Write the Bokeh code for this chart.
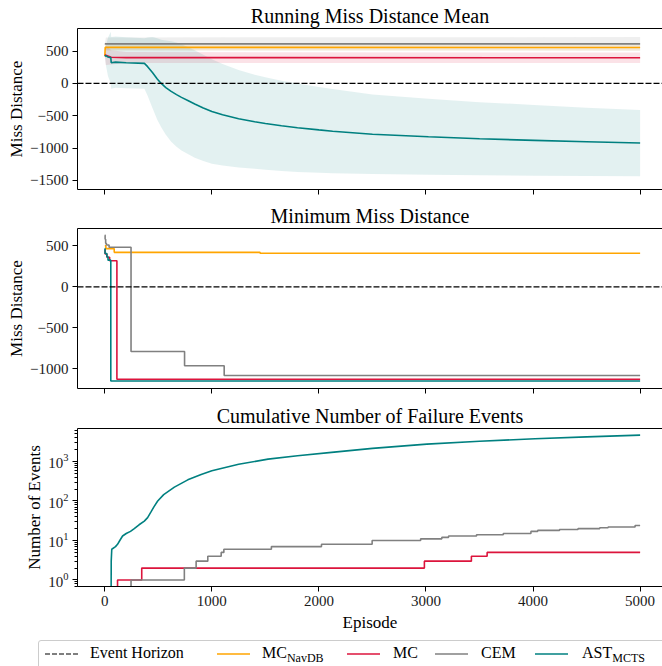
import numpy as np
from bokeh.plotting import figure
from bokeh.models import Range1d, FixedTicker, CustomJSTickFormatter, Span, LinearAxis, Div
from bokeh.layouts import column
from bokeh.embed import file_html
from bokeh.resources import INLINE

FONT = "Liberation Serif"
C_NAV = "#FFA500"
C_MC = "#DC143C"
C_CEM = "#808080"
C_AST = "#008080"

# ---------------- Panel 1: running miss distance mean ----------------
run_ep_ast = [0, 10, 30, 56, 60, 100, 200, 370, 400, 445, 490, 527, 570, 620, 670, 716,
              780, 840, 920, 1000, 1100, 1250, 1400, 1500, 1650, 1800, 2000, 2128,
              2500, 3023, 3500, 4011, 4500, 5000]
run_mean_ast = [420, 430, 410, 400, 320, 330, 320, 310, 260, 170, 70, 0, -65, -123, -172, -215,
                -268, -318, -378, -432, -483, -545, -592, -618, -655, -685, -718, -738,
                -785, -825, -855, -880, -902, -922]
run_std_ast = [0, 150, 300, 400, 400, 395, 395, 390, 450, 550, 630, 677, 730, 777, 805, 820,
               828, 832, 822, 808, 785, 755, 728, 715, 697, 683, 664, 652,
               615, 588, 565, 548, 528, 512]

run_ep_mc = [0, 10, 60, 200, 5000]
run_mean_mc = [445, 435, 405, 400, 398]
run_std_mc = [0, 150, 110, 85, 80]

run_ep_nav = [0, 4, 5000]
run_mean_nav = [420, 560, 555]
run_std_nav = [0, 50, 45]

run_ep_cem = [0, 10, 5000]
run_mean_cem = [615, 612, 612]
run_std_cem = [0, 100, 105]

# ---------------- Panel 2: minimum miss distance (steps) ----------------
min_ep_nav = [0, 10, 88, 1450, 5000]
min_val_nav = [500, 465, 420, 410, 410]
min_ep_cem = [0, 3, 8, 15, 40, 245, 745, 1115, 5000]
min_val_cem = [630, 580, 530, 510, 483, -789, -962, -1082, -1082]
min_ep_mc = [0, 3, 20, 45, 113, 5000]
min_val_mc = [455, 400, 360, 317, -1128, -1128]
min_ep_ast = [0, 2, 19, 30, 56, 5000]
min_val_ast = [467, 406, 366, 325, -1148, -1148]

# ---------------- Panel 3: cumulative number of failure events ----------------
fail_ep_ast = [0, 56, 60, 65, 100, 119, 140, 166, 200, 240, 275, 320, 369, 400, 430,
               460, 494, 550, 650, 775, 900, 1000, 1250, 1525, 1800, 2118, 2500,
               3008, 3500, 4018, 4500, 5000]
fail_val_ast = [0, 0, 3, 6, 7, 8, 10, 13, 15, 17, 20, 25, 31, 38, 52,
                72, 100, 145, 224, 343, 470, 585, 850, 1150, 1400, 1700, 2150,
                2750, 3250, 3750, 4200, 4650]
fail_ep_cem = [0, 245, 743, 853, 962, 1087, 1112, 1556, 2024, 2497, 2950, 3148, 3211,
               3472, 3722, 3980, 4043, 4247, 4420, 4623, 4701, 4953, 5000]
fail_val_cem = [0, 1, 2, 3, 4, 5, 6, 7, 8, 10, 11, 12, 13,
                14, 15, 17, 18, 19, 20, 21, 22, 24, 24]
fail_ep_mc = [0, 119, 345, 2985, 3424, 3571, 5000]
fail_val_mc = [0, 1, 2, 3, 4, 5, 5]
fail_ep_nav = [0, 5000]
fail_val_nav = [0, 0]

x_ticks = [0, 1000, 2000, 3000, 4000, 5000]
y_ticks_1 = [-1500, -1000, -500, 0, 500]
y_ticks_2 = [-1000, -500, 0, 500]
y_ticks_3 = [1, 10, 100, 1000]

legend_labels = [("Event Horizon", ""), ("MC", "NavDB"), ("MC", ""), ("CEM", ""), ("AST", "MCTS")]
legend_colors = ["black", C_NAV, C_MC, C_CEM, C_AST]

X_START, X_END = -255, 5209
LW = 1.6

minus_fmt = CustomJSTickFormatter(code="return tick < 0 ? '\u2212' + Math.abs(tick) : String(tick);")


def style_axis(ax, font_size="15px"):
    ax.axis_line_color = "black"
    ax.axis_line_width = 1
    ax.major_tick_line_color = "black"
    ax.major_tick_out = 5
    ax.major_tick_in = 0
    ax.minor_tick_line_color = None
    ax.major_label_text_font = FONT
    ax.major_label_text_font_size = font_size
    ax.major_label_text_color = "#1a1a1a"
    ax.major_label_standoff = 4
    ax.axis_label_text_font = FONT
    ax.axis_label_text_font_size = "17px"
    ax.axis_label_text_font_style = "normal"
    ax.axis_label_text_color = "black"
    ax.axis_label_standoff = 1


def make_fig(title, height, y_range, top, bottom, y_type="linear", show_x_labels=False):
    p = figure(width=662, height=height, x_range=Range1d(X_START, X_END), y_range=y_range,
               y_axis_type=y_type, output_backend="svg", toolbar_location=None,
               min_border_left=77, min_border_right=0, min_border_top=top,
               min_border_bottom=bottom, title=title)
    p.outline_line_color = None
    p.grid.visible = False
    p.title.text_font = FONT
    p.title.text_font_size = "20px"
    p.title.text_font_style = "normal"
    p.title.text_color = "black"
    p.title.align = "center"
    p.title.standoff = 4
    bottom_ax = p.below[0]
    left_ax = p.left[0]
    style_axis(bottom_ax)
    style_axis(left_ax)
    bottom_ax.ticker = FixedTicker(ticks=x_ticks)
    if not show_x_labels:
        bottom_ax.major_label_text_font_size = "1px"
        bottom_ax.major_label_text_color = None
        bottom_ax.major_label_text_alpha = 0
        bottom_ax.major_label_standoff = 0
    top_ax = LinearAxis(ticker=FixedTicker(ticks=[]), major_tick_line_color=None,
                        minor_tick_line_color=None, major_label_text_font_size="1px",
                        major_label_text_color=None, axis_line_color="black",
                        major_label_standoff=0, axis_label_standoff=0)
    p.add_layout(top_ax, "above")
    return p, bottom_ax, left_ax


# ---------- figure 1 ----------
p1, bx1, ly1 = make_fig("Running Miss Distance Mean", 200, Range1d(-1640, 850), 28, 11)
ly1.ticker = FixedTicker(ticks=y_ticks_1)
ly1.formatter = minus_fmt
ly1.axis_label = "Miss Distance"

for ep, mean, std, col, alpha in [
    (run_ep_cem, run_mean_cem, run_std_cem, C_CEM, 0.13),
    (run_ep_nav, run_mean_nav, run_std_nav, C_NAV, 0.10),
    (run_ep_mc, run_mean_mc, run_std_mc, C_MC, 0.12),
    (run_ep_ast, run_mean_ast, run_std_ast, C_AST, 0.11),
]:
    m = np.array(mean, float)
    s = np.array(std, float)
    p1.varea(x=ep, y1=m - s, y2=m + s, fill_color=col, fill_alpha=alpha)
for ep, mean, col in [(run_ep_nav, run_mean_nav, C_NAV), (run_ep_mc, run_mean_mc, C_MC),
                      (run_ep_cem, run_mean_cem, C_CEM), (run_ep_ast, run_mean_ast, C_AST)]:
    p1.line(ep, mean, line_color=col, line_width=LW)
p1.add_layout(Span(location=0, dimension="width", line_color="black", line_width=1.2,
                   line_dash="6 2"))

# ---------- figure 2 ----------
p2, bx2, ly2 = make_fig("Minimum Miss Distance", 200, Range1d(-1240, 711), 28, 12)
ly2.ticker = FixedTicker(ticks=y_ticks_2)
ly2.formatter = minus_fmt
ly2.axis_label = "Miss Distance"
for ep, val, col in [(min_ep_nav, min_val_nav, C_NAV), (min_ep_mc, min_val_mc, C_MC),
                     (min_ep_cem, min_val_cem, C_CEM), (min_ep_ast, min_val_ast, C_AST)]:
    p2.step(ep, val, mode="after", line_color=col, line_width=LW)
p2.add_layout(Span(location=0, dimension="width", line_color="black", line_width=1.2,
                   line_dash="6 2"))

# ---------- figure 3 ----------
p3, bx3, ly3 = make_fig("Cumulative Number of Failure Events", 234, Range1d(0.684, 6840),
                        27, 47, y_type="log", show_x_labels=True)
minor = [m * 10.0 ** k for k in range(-1, 4) for m in range(2, 10)]
ly3.ticker = FixedTicker(ticks=y_ticks_3, minor_ticks=minor)
ly3.minor_tick_line_color = "black"
ly3.minor_tick_out = 3
ly3.minor_tick_in = 0
ly3.axis_label = "Number of Events"
bx3.axis_label = "Episode"
bx3.axis_label_standoff = 4


def pos(v):
    a = np.array(v, float)
    return np.where(a > 0, a, 1e-3)


for ep, val, col in [(fail_ep_nav, fail_val_nav, C_NAV), (fail_ep_mc, fail_val_mc, C_MC),
                     (fail_ep_cem, fail_val_cem, C_CEM)]:
    p3.step(ep, pos(val), mode="after", line_color=col, line_width=LW)
p3.line(fail_ep_ast, pos(fail_val_ast), line_color=C_AST, line_width=LW)

# ---------- legend (HTML, to allow subscripts) ----------
line_x0 = [45, 217, 347, 435, 535]
text_x = [90, 262, 393, 481, 582]
svg_lines = []
for i, (x0, col) in enumerate(zip(line_x0, legend_colors)):
    dash = ' stroke-dasharray="5 2"' if i == 0 else ""
    w = 1.2 if i == 0 else LW
    svg_lines.append(f'<line x1="{x0}" y1="20" x2="{x0 + 33}" y2="20" stroke="{col}" '
                     f'stroke-width="{w}"{dash}/>')
spans = []
for (main, sub), x in zip(legend_labels, text_x):
    sub_html = (f'<span style="font-size:12px;position:relative;top:4px;">{sub}</span>'
                if sub else "")
    spans.append(f'<span style="position:absolute;left:{x}px;top:10px;line-height:18px;'
                 f'font-size:16px;white-space:nowrap;color:black;">{main}{sub_html}</span>')
legend_html = (
    f'<div style="position:relative;width:662px;height:32px;overflow:hidden;'
    f'font-family:\'{FONT}\',serif;">'
    '<div style="position:absolute;left:38px;top:6px;width:700px;height:60px;'
    'border:1px solid #cccccc;border-radius:3px;box-sizing:border-box;"></div>'
    '<svg width="662" height="32" style="position:absolute;left:0;top:0;">'
    + "".join(svg_lines) + '</svg>' + "".join(spans) + '</div>'
)
legend_div = Div(text=legend_html, width=662, height=32, margin=(0, 0, 0, 0))

layout = column(p1, p2, p3, legend_div, spacing=0)
open("out.html", "w").write(file_html(layout, INLINE))
